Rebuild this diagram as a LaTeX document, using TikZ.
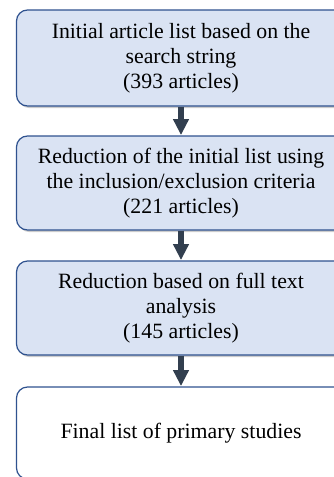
\documentclass[tikz,border=0pt]{standalone}
\usepackage{fontspec}
\setmainfont{Liberation Serif}
\usetikzlibrary{arrows.meta,shadows}
\definecolor{boxfill}{HTML}{DAE3F3}
\definecolor{boxline}{HTML}{2F528F}
\definecolor{arrowcol}{HTML}{323F4F}
\tikzset{
  stepbox/.style={draw=boxline, line width=1.2pt, rounded corners=11pt, fill=boxfill,
    minimum width=329pt, align=center, inner sep=0pt,
    font=\fontsize{21.8pt}{25pt}\selectfont,
    drop shadow={shadow xshift=1.5pt, shadow yshift=-2pt, opacity=0.4, fill=gray}},
  flowarrow/.style={draw=arrowcol, line width=6pt, -{Triangle[width=15pt,length=16pt]}, shorten >=0.3pt}
}
\begin{document}
\begin{tikzpicture}[x=1pt,y=-1pt]
\useasboundingbox (0,0) rectangle (334,477);
\clip (0,0) rectangle (334,477);
\node[stepbox, minimum height=96pt] (b1) at (181,58) {Initial article list based on the\\search string\\(393 articles)};
\node[stepbox, minimum height=94pt] (b2) at (181,183) {Reduction of the initial list using\\the inclusion/exclusion criteria\\(221 articles)};
\node[stepbox, minimum height=94pt] (b3) at (181,308) {Reduction based on full text\\analysis\\(145 articles)};
\node[stepbox, fill=white, minimum height=92pt] (b4) at (181,433) {Final list of primary studies};
\draw[flowarrow] (b1.south) -- (b2.north);
\draw[flowarrow] (b2.south) -- (b3.north);
\draw[flowarrow] (b3.south) -- (b4.north);
\end{tikzpicture}
\end{document}
